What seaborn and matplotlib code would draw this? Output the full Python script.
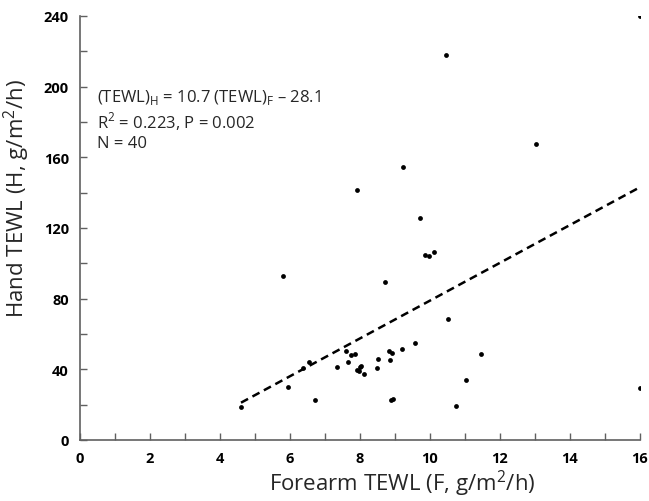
import matplotlib
matplotlib.use("Agg")
import matplotlib.pyplot as plt
import seaborn as sns
import numpy as np
import pandas as pd
from matplotlib.ticker import MultipleLocator

forearm = [16.0, 10.46, 13.03, 9.23, 7.9, 9.70, 9.87, 9.97, 10.10, 5.8,
           8.72, 10.50, 9.56, 9.2, 8.83, 8.9, 8.52, 8.87, 8.48, 7.91,
           7.97, 8.0, 8.04, 8.1, 7.35, 7.59, 7.66, 7.73, 7.85, 6.38,
           6.55, 5.94, 6.72, 4.6, 8.88, 8.93, 10.74, 11.04, 11.47, 16.0]
hand = [240, 218, 167.5, 154.7, 141.5, 125.4, 104.5, 104.1, 106.6, 93,
        89.6, 68.4, 55, 51.6, 50.2, 49.4, 46, 45.2, 40.8, 39.6,
        39.2, 41.5, 41.7, 37.2, 41.3, 50.6, 44.1, 48.3, 48.5, 40.5,
        44.1, 30, 22.8, 18.5, 22.6, 23.2, 19, 33.7, 48.4, 29.4]
slope = 10.7
intercept = -28.1
x_ticks = list(range(0, 17, 2))
y_ticks = list(range(0, 241, 40))

sns.set_theme(style="white")
plt.rcParams['font.family'] = ['Open Sans', 'DejaVu Sans']
plt.rcParams['mathtext.fontset'] = 'custom'
plt.rcParams['mathtext.rm'] = 'Open Sans'

df = pd.DataFrame({"F": forearm, "H": hand})
fit_x = np.array([min(forearm), max(forearm)])
fit = pd.DataFrame({"F": fit_x, "H": slope * fit_x + intercept})

fig = plt.figure(figsize=(6.49, 5.02), dpi=100)
ax = fig.add_axes([80/649, 61/502, 560/649, 424/502])

sns.lineplot(data=fit, x="F", y="H", ax=ax, color="black", lw=1.8,
             linestyle=(0, (3.2, 2.0)))
sns.scatterplot(data=df, x="F", y="H", ax=ax, color="black", s=12,
                linewidth=0, zorder=3)

ax.set_xlim(0, 16)
ax.set_ylim(0, 240)
ax.set_xticks(x_ticks)
ax.set_yticks(y_ticks)
ax.xaxis.set_minor_locator(MultipleLocator(1))
ax.yaxis.set_minor_locator(MultipleLocator(20))
for s in ["top", "right"]:
    ax.spines[s].set_visible(False)
for s in ["left", "bottom"]:
    ax.spines[s].set_color("#606060")
    ax.spines[s].set_linewidth(1.2)
ax.tick_params(which="both", direction="in", length=5, width=1, color="#606060",
               bottom=True, left=True)
ax.tick_params(which="major", labelsize=10.5, pad=8, colors="#606060",
               labelcolor="black")
for lab in ax.get_xticklabels() + ax.get_yticklabels():
    lab.set_fontweight("bold")

ax.set_xlabel("Forearm TEWL (F, g/m$^\\mathregular{2}$/h)", fontsize=16, labelpad=2)
ax.set_ylabel("Hand TEWL (H, g/m$^\\mathregular{2}$/h)", fontsize=16, labelpad=5)
ax.xaxis.set_label_coords(0.575, -0.065)
ax.yaxis.set_label_coords(-0.085, 0.573)

txt = ("(TEWL)$_\\mathregular{H}$ = 10.7 (TEWL)$_\\mathregular{F}$ \u2013 28.1\n"
       "R$^\\mathregular{2}$ = 0.223, P = 0.002\n"
       "N = 40")
ax.text(0.03, 0.832, txt, transform=ax.transAxes, fontsize=12, va="top",
        ha="left", linespacing=1.2)

fig.savefig("out.png", dpi=100)
